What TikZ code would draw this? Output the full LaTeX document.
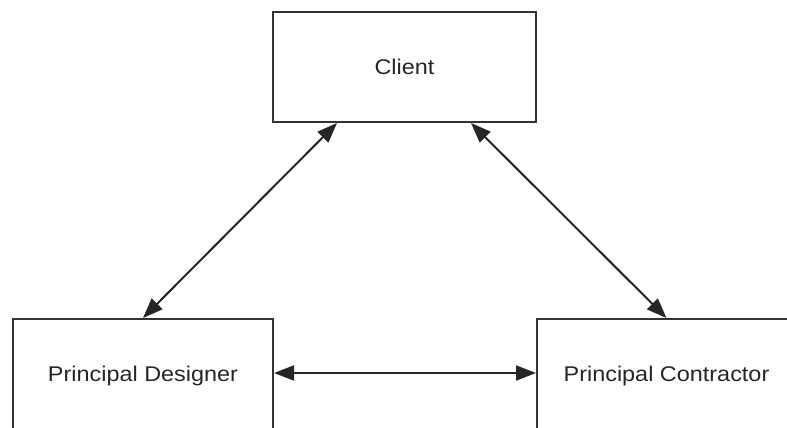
\documentclass[tikz,border=0pt]{standalone}
\usepackage{fontspec}
\setmainfont{Liberation Sans}[FakeStretch=1.1]
\usetikzlibrary{arrows.meta}
\begin{document}
\begin{tikzpicture}[x=1pt,y=-1pt,
  box/.style={draw=black!80,line width=2pt,fill=white,minimum height=114pt,inner sep=0pt,font=\fontsize{21.3}{25}\selectfont,text=black!85},
  link/.style={line width=2pt,black!85,{Triangle[length=20pt,width=15pt]}-{Triangle[length=20pt,width=15pt]}}]
\useasboundingbox (0,0) rectangle (787,428);
\node[box,minimum width=263pt,minimum height=110pt] (client) at (404.5,67) {Client};
\node[box,minimum width=260pt] (designer) at (143,376) {Principal Designer};
\node[box,minimum width=259pt] (contractor) at (666.5,376) {Principal Contractor};
\draw[link] ([xshift=65pt]client.south west) -- (designer.north);
\draw[link] ([xshift=-66pt]client.south east) -- (contractor.north);
\draw[link] ([yshift=3pt]designer.east) -- ([yshift=3pt]contractor.west);
\end{tikzpicture}
\end{document}
